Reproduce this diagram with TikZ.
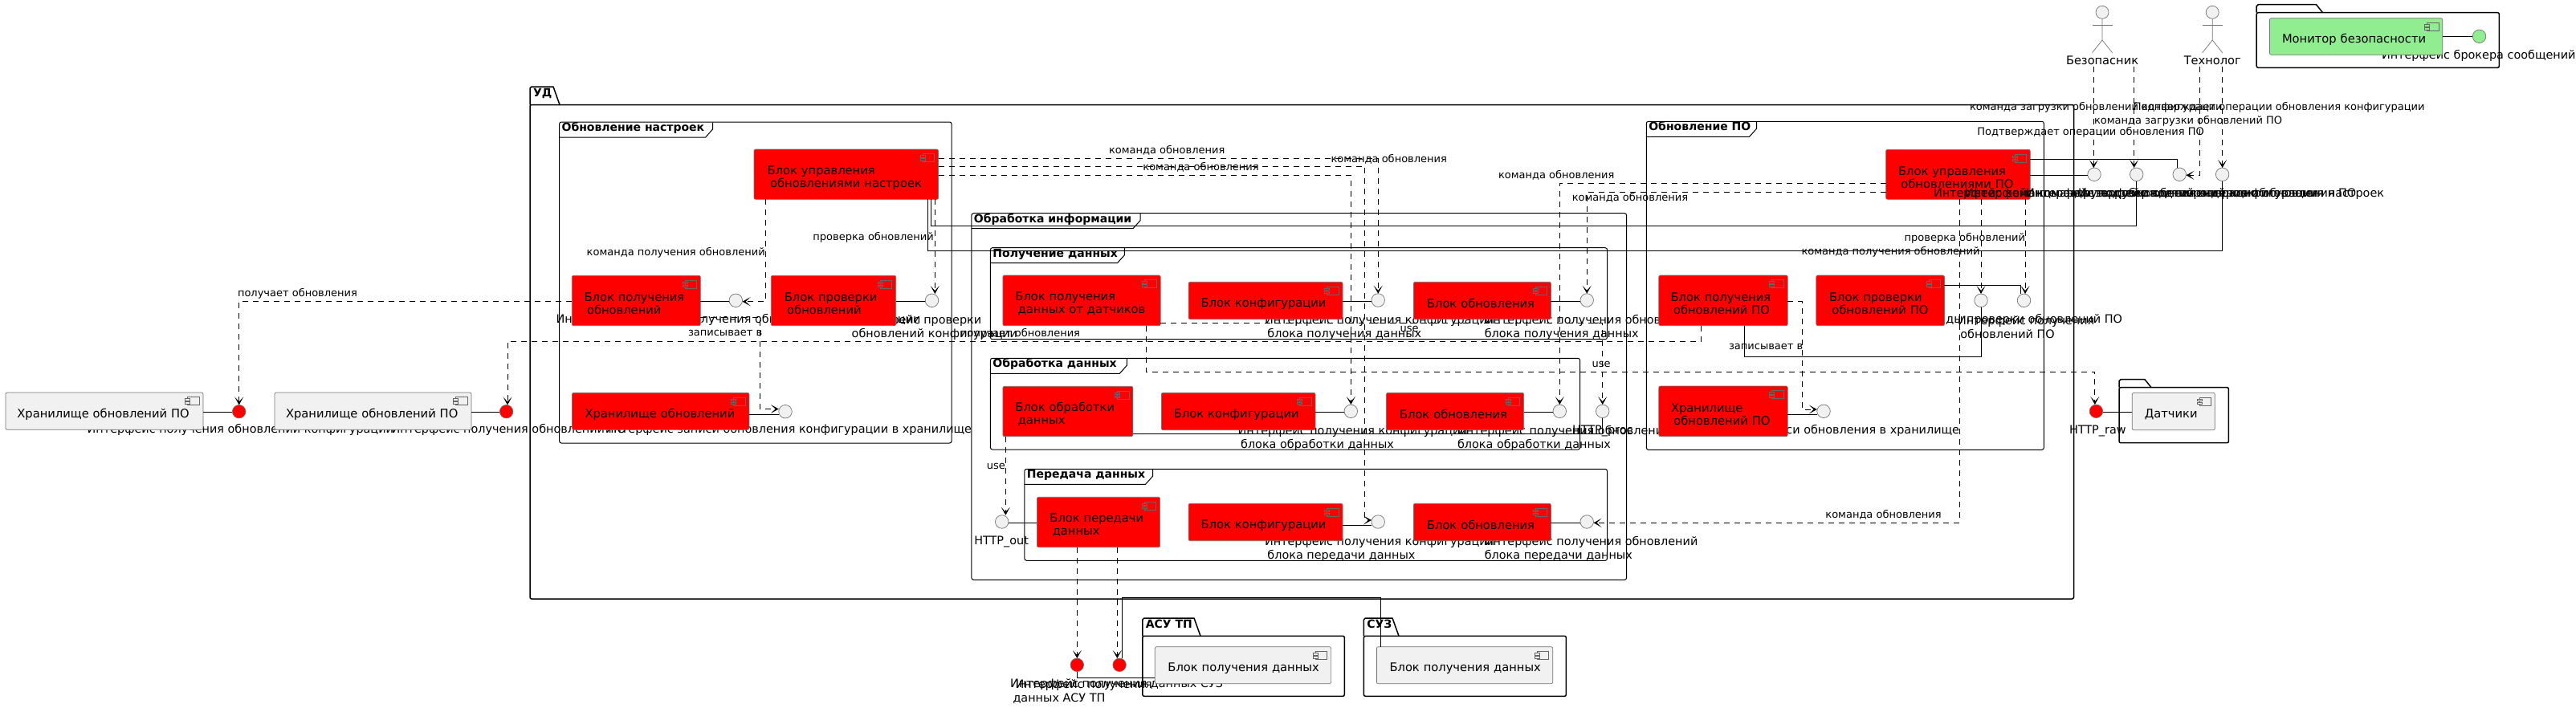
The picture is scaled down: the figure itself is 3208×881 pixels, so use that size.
\documentclass[tikz,border=0pt]{standalone}
\usepackage{fontspec}
\setmainfont{DejaVu Sans}
\usetikzlibrary{arrows.meta,calc}
\definecolor{compgrey}{HTML}{F1F1F1}
\definecolor{lgreen}{HTML}{90EE90}
\tikzset{
  every node/.style={font=\fontsize{14}{16}\selectfont,inner sep=0pt,outer sep=0pt},
  compbox/.style={draw=black!55,line width=0.7pt,rounded corners=2pt,inner ysep=0pt,align=left,font=\fontsize{14.7}{16}\selectfont},
  iconline/.style={draw=black!60,line width=0.6pt},
  framebox/.style={draw=black,line width=1pt,rounded corners=2.5pt},
  packbox/.style={draw=black,line width=1.5pt,rounded corners=2pt},
  titletext/.style={font=\fontsize{14}{16}\selectfont\bfseries,anchor=mid west},
  lab/.style={anchor=mid west,font=\fontsize{14.4}{17}\selectfont},
  labr/.style={anchor=mid east,font=\fontsize{14.4}{17}\selectfont},
  labtwo/.style={anchor=west,align=left,font=\fontsize{14.4}{17}\selectfont},
  conlab/.style={anchor=mid west,font=\fontsize{13}{15}\selectfont},
  conlabr/.style={anchor=mid east,font=\fontsize{13}{15}\selectfont},
  iface/.style={circle,draw=black!55,line width=0.7pt,fill=compgrey,minimum size=16.5pt},
  ifred/.style={iface,fill=red},
  ifgreen/.style={iface,fill=lgreen},
  conn/.style={draw=black,line width=1pt},
  dep/.style={draw=black,line width=1pt,dash pattern=on 7pt off 6pt,-{Stealth[length=10pt,width=11pt,inset=6pt]}},
  actorname/.style={minimum height=15pt,font=\fontsize{14.6}{16}\selectfont},
  actorline/.style={draw=black!55,line width=0.7pt},
}
\newcommand\comp[8]{%
  \pgfmathsetmacro\cw{#4-#2}\pgfmathsetmacro\ch{#5-#3}\pgfmathsetmacro\cp{#6-#2}\pgfmathsetmacro\ctw{\cw-2*\cp}%
  \node[compbox,fill=#7,minimum width=\cw pt,minimum height=\ch pt,text width=\ctw pt,inner xsep=\cp pt]
     (#1) at ({(#2+#4)/2},{(#3+#5)/2}) {\rule{0pt}{19pt}#8};
  \draw[iconline,fill=#7] ([xshift=-19.5pt,yshift=-5.7pt]#1.north east) rectangle ([xshift=-5pt,yshift=-15.7pt]#1.north east);
  \draw[iconline,fill=#7] ([xshift=-22.5pt,yshift=-7.7pt]#1.north east) rectangle ([xshift=-16.5pt,yshift=-10.2pt]#1.north east);
  \draw[iconline,fill=#7] ([xshift=-22.5pt,yshift=-11.7pt]#1.north east) rectangle ([xshift=-16.5pt,yshift=-14.2pt]#1.north east);
}
\newcommand\frm[7]{%
  \pgfmathsetmacro\cw{#4-#2}\pgfmathsetmacro\ch{#5-#3}%
  \node[framebox,minimum width=\cw pt,minimum height=\ch pt] (#1) at ({(#2+#4)/2},{(#3+#5)/2}) {};
  \draw[line width=1pt] (#2,#3+19) -- (#6-9,#3+19) -- (#6,#3+9) -- (#6,#3+0.5);
  \node[titletext] (#1-t) at (#2+3,#3+8.7) {#7};
}
\newcommand\pck[8]{%
  \pgfmathsetmacro\cw{#6-#2}\pgfmathsetmacro\ch{#7-#5}%
  \node[packbox,minimum width=\cw pt,minimum height=\ch pt] (#1) at ({(#2+#6)/2},{(#5+#7)/2}) {};
  \draw[line width=1.5pt,line join=round] (#2,#5) -- (#2,#3+2) -- (#2+2,#3) -- (#4,#3) -- (#4+8,#5);
  \node[titletext] (#1-t) at (#2+4,#3+10) {#8};
}
\newcommand\lb[4]{\node[lab] (#1) at (#2,#3) {#4};}
\newcommand\lbr[4]{\node[labr] (#1) at (#2,#3) {#4};}
\newcommand\lbb[4]{\node[labtwo] (#1) at (#2,#3) {#4};}
\newcommand\cl[4]{\node[conlab] (#1) at (#2,#3) {#4};}
\newcommand\clr[4]{\node[conlabr] (#1) at (#2,#3) {#4};}
\newcommand\actor[3]{%
  \node[actorname] (#1) at (#2,75.7) {#3};
  \node[iface,minimum size=16pt] (#1-h) at (#2,15.3) {};
  \draw[actorline] (#1-h.south) -- (#2,50) -- (#2-12.5,65.7);
  \draw[actorline] (#2,50) -- (#2+12.5,65.7);
  \draw[actorline] (#2-12.5,31.3) -- (#2+12.5,31.3);
}
\begin{document}
\begin{tikzpicture}[x=1pt,y=-1pt]
\useasboundingbox (0,0) rectangle (3208,881);
% packages and frames
\pck{ud}{660}{108}{689}{130.5}{2582.5}{746}{УД}
\pck{kap}{1422.8}{770}{1487}{792.3}{1674.3}{867.3}{АСУ ТП}
\pck{ksp}{1698.4}{770}{1734}{792.3}{1950.4}{867.3}{СУЗ}
\pck{sap}{2639}{472.7}{2671}{482.7}{2775.4}{551.7}{}
\pck{mnp}{2810.2}{5.7}{2884.5}{15.7}{3112.3}{84.3}{}
\frm{fs}{696.6}{152}{1185}{552}{887.6}{Обновление настроек}
\frm{fi}{1209.9}{265.7}{2025.6}{722.3}{1420}{Обработка информации}
\frm{fg}{1233.4}{308.7}{2001.5}{422.7}{1400.4}{Получение данных}
\frm{fo}{1233.4}{446.3}{1967.6}{560}{1403.3}{Обработка данных}
\frm{fp}{1275.9}{584.3}{2001.5}{698.3}{1435.5}{Передача данных}
\frm{fu}{2050.3}{151.3}{2545.3}{560.3}{2187.5}{Обновление ПО}
% interface labels (lie under the components)
\lb{li1}{108.7}{537}{Интерфейс получения обновлений конфигурации}
\lb{li2}{487.5}{537}{Интерфейс получения обновлений ПО}
\lb{li3}{753.8}{537}{Интерфейс записи обновления конфигурации в хранилище}
\lb{li4}{692.6}{399.3}{Интерфейс команды получения обновлений конфигурации}
\lbb{li5}{1060.7}{407.8}{Интерфейс проверки\\обновлений конфигурации}
\lbb{lg1}{1575}{407.8}{Интерфейс получения конфигурации\\\hspace*{3.4pt}блока получения данных}
\lbb{lg2}{1848.8}{407.8}{Интерфейс получения обновлений\\блока получения данных}
\lbb{lo1}{1541.7}{545.8}{Интерфейс получения конфигурации\\\hspace*{3.4pt}блока обработки данных}
\lbb{lo2}{1815}{545.8}{Интерфейс получения обновлений\\блока обработки данных}
\lb{lop}{1958}{537.3}{HTTP\_proc}
\lbb{lp1}{1575}{684.2}{Интерфейс получения конфигурации\\\hspace*{3.4pt}блока передачи данных}
\lbb{lp2}{1848.8}{684.2}{Интерфейс получения обновлений\\блока передачи данных}
\lb{lp0}{1213.3}{675.3}{HTTP\_out}
\lbr{lq1}{2643}{399.3}{Интерфейс команды проверки обновлений ПО}
\lbb{lq2}{2438}{407.8}{Интерфейс получения\\\hspace*{3.4pt}обновлений ПО}
\lbr{lq3}{2440}{537.3}{Интерфейс записи обновления в хранилище}
\lb{lraw}{2577}{537.3}{HTTP\_raw}
\lb{lbr}{2966}{70.3}{Интерфейс брокера сообщений}
\lbb{lka}{1261.5}{861.3}{\hspace*{3pt}Интерфейс получения\\данных АСУ ТП}
\lb{lkb}{1258}{853.3}{Интерфейс получения данных СУЗ}
% components
\comp{st1}{7}{489}{253}{535.3}{21.4}{compgrey}{\mbox{Хранилище обновлений ПО}}
\comp{st2}{342}{489}{587}{535.3}{356}{compgrey}{\mbox{Хранилище обновлений ПО}}
\comp{sm}{939}{186}{1168.5}{248.3}{955.7}{red}{Блок управления\\\hspace*{3.4pt}\mbox{обновлениями настроек}}
\comp{sg}{712.3}{343.3}{872.3}{405.7}{727.6}{red}{Блок получения\\\hspace*{3.4pt}обновлений}
\comp{sc}{960.3}{343.3}{1115.7}{405.7}{976.8}{red}{Блок проверки\\\hspace*{3.4pt}обновлений}
\comp{ss}{712.5}{489.3}{932.9}{535.3}{728.5}{red}{\mbox{Хранилище обновлений}}
\comp{gd}{1248.9}{343}{1445.2}{405.7}{1264.4}{red}{Блок получения\\\hspace*{3.4pt}\mbox{данных от датчиков}}
\comp{gc}{1480.2}{351.3}{1672}{397.7}{1495.7}{red}{\mbox{Блок конфигурации}}
\comp{gu}{1760.4}{351.3}{1931.4}{397.7}{1777}{red}{\mbox{Блок обновления}}
\comp{od}{1248.9}{481.3}{1410.8}{543.7}{1264.4}{red}{Блок обработки\\\hspace*{3.4pt}данных}
\comp{oc}{1446.4}{489.3}{1638}{535.7}{1461.9}{red}{\mbox{Блок конфигурации}}
\comp{ou}{1726.5}{489.3}{1897.6}{535.7}{1743}{red}{\mbox{Блок обновления}}
\comp{pd}{1291.4}{619.3}{1444.6}{681.7}{1307.4}{red}{Блок передачи\\\hspace*{3.4pt}данных}
\comp{pc}{1480.2}{627.3}{1672}{673.7}{1495.7}{red}{\mbox{Блок конфигурации}}
\comp{pu}{1760.4}{627.3}{1931.4}{673.7}{1777}{red}{\mbox{Блок обновления}}
\comp{um}{2348.6}{186.3}{2528.3}{248.3}{2364}{red}{Блок управления\\\hspace*{3.4pt}\mbox{обновлениями ПО}}
\comp{ug}{2065.8}{343}{2226.2}{405.7}{2080.6}{red}{Блок получения\\\hspace*{3.4pt}\mbox{обновлений ПО}}
\comp{uc}{2261.8}{343}{2421.4}{405.7}{2278}{red}{Блок проверки\\\hspace*{3.4pt}\mbox{обновлений ПО}}
\comp{us}{2065.8}{481}{2226.2}{543.7}{2081}{red}{Хранилище\\\hspace*{3.4pt}\mbox{обновлений ПО}}
\comp{ka}{1438.3}{805.7}{1657.6}{851.7}{1454.4}{compgrey}{\mbox{Блок получения данных}}
\comp{kb}{1714.4}{805.7}{1933.7}{851.7}{1730.5}{compgrey}{\mbox{Блок получения данных}}
\comp{ds}{2655.3}{489.3}{2758.3}{535.7}{2670.8}{compgrey}{\mbox{Датчики}}
\comp{mn}{2826.5}{22.7}{3041.8}{68.3}{2842}{lgreen}{\mbox{Монитор безопасности}}
% interfaces
\node[ifred] (icfg1) at (297.7,512.7) {};
\node[ifred] (icfg2) at (630.6,512.7) {};
\node[iface] (is1) at (916.3,374.3) {};
\node[iface] (is2) at (1160.5,374.3) {};
\node[iface] (is3) at (978,512.7) {};
\node[iface] (ig1) at (1716.2,374) {};
\node[iface] (ig2) at (1976.2,374) {};
\node[iface] (io1) at (1682.3,512.3) {};
\node[iface] (io2) at (1942.3,512.3) {};
\node[iface] (iop) at (1995.7,512.3) {};
\node[iface] (ip0) at (1247.7,650) {};
\node[iface] (ip1) at (1716.2,650) {};
\node[iface] (ip2) at (1976.2,650) {};
\node[ifred] (ia) at (1341.3,828.3) {};
\node[ifred] (ib) at (1394.1,828.3) {};
\node[iface] (iu1) at (2608,217.3) {};
\node[iface] (iu2) at (2660.7,217.3) {};
\node[iface] (iu3) at (2714.2,217.3) {};
\node[iface] (iu4) at (2767.6,217.3) {};
\node[iface] (iq1) at (2467,374.3) {};
\node[iface] (iq2) at (2520.5,374.3) {};
\node[iface] (iq3) at (2271,512.3) {};
\node[ifred] (iraw) at (2610.4,512.3) {};
\node[ifgreen] (ibr) at (3087.5,45.3) {};
% actors
\actor{aB}{2618}{Безопасник}
\actor{aT}{2755.2}{Технолог}
% labels lying over the components
\lb{lu1}{2408}{242.7}{Интерфейс команды загрузки обновлений настроек}
\lb{lu2}{2447}{242.7}{Интерфейс команды загрузки обновлений конфигурации}
\lb{lu3}{2523}{242.7}{Интерфейс подтверждения операции обновления ПО}
\lb{lu4}{2588}{242.7}{Интерфейс подтверждения обновления настроек}
% connector labels
\cl{c1}{296}{367}{получает обновления}
\clr{c2}{1345}{416.7}{получает обновления}
\clr{c3}{952.7}{315.7}{команда получения обновлений}
\clr{c4}{1162.8}{296.7}{проверка обновлений}
\cl{c5}{857}{416}{записывает в}
\cl{c6}{1381}{189}{команда обновления}
\cl{c7}{1423.4}{210}{команда обновления}
\cl{c8}{1657.6}{199.3}{команда обновления}
\cl{c9}{1866}{220}{команда обновления}
\cl{c10}{1957.8}{248}{команда обновления}
\cl{c11}{2273.4}{643}{команда обновления}
\cl{c12}{1743.7}{410.7}{use}
\cl{c13}{1982.5}{455}{use}
\cl{c14}{1228.8}{581.7}{use}
\clr{c15}{2522}{297.3}{проверка обновлений}
\clr{c16}{2465.5}{314.3}{команда получения обновлений}
\cl{c17}{2153}{432.3}{записывает в}
\cl{c18}{2453}{135}{команда загрузки обновлений конфигурации}
\cl{c19}{2656.8}{135}{Подтверждает операции обновления конфигурации}
\cl{c20}{2608}{152}{команда загрузки обновлений ПО}
\cl{c21}{2462.4}{166}{Подтверждает операции обновления ПО}
% solid connectors
\draw[conn] (st1.east |- 0,513) -- (icfg1.west |- 0,513);
\draw[conn] (st2.east |- 0,513) -- (icfg2.west |- 0,513);
\draw[conn] (sg.east |- 0,375.7) -- (is1.west |- 0,375.7);
\draw[conn] (sc.east |- 0,375.7) -- (is2.west |- 0,375.7);
\draw[conn] (ss.east |- 0,516.3) -- (is3.west |- 0,516.3);
\draw[conn] (gc.east |- 0,375.3) -- (ig1.west |- 0,375.3);
\draw[conn] (gu.east |- 0,375.3) -- (ig2.west |- 0,375.3);
\draw[conn] (oc.east |- 0,513.3) -- (io1.west |- 0,513.3);
\draw[conn] (ou.east |- 0,513.3) -- (io2.west |- 0,513.3);
\draw[conn] (od.east |- 0,540) -- (iop.south |- 0,540) -- (iop.south);
\draw[conn] (pd.west |- 0,651.3) -- (ip0.east |- 0,651.3);
\draw[conn] (pc.east |- 0,654.3) -- (ip1.west |- 0,654.3);
\draw[conn] (pu.east |- 0,651.3) -- (ip2.west |- 0,651.3);
\draw[conn] (ia.south) -- (ia.south |- 0,844.3) -- (ka.west |- 0,844.3);
\draw[conn] (1397.6,0 |- ib.north) -- (1397.6,744.3) -- (1719.6,744.3) -- (1719.6,0 |- kb.north);
\draw[conn] (um.east |- 0,218.3) -- (iu1.west |- 0,218.3);
\draw[conn] (um.east |- 0,198.3) -- (2711.8,198.3) -- (2711.8,0 |- iu3.north);
\draw[conn] (1159.7,0 |- sm.south) -- (1159.7,281.5) -- (iu2.south |- 0,281.5) -- (iu2.south);
\draw[conn] (1155.5,0 |- sm.south) -- (1155.5,312.3) -- (iu4.south |- 0,312.3) -- (iu4.south);
\draw[conn] (2172,0 |- ug.south) -- (2172,444.3) -- (iq1.south |- 0,444.3) -- (iq1.south);
\draw[conn] (uc.east |- 0,355.7) -- (2516.7,355.7) -- (2516.7,0 |- iq2.north);
\draw[conn] (us.east |- 0,516.3) -- (iq3.west |- 0,516.3);
\draw[conn] (iraw.east |- 0,513.3) -- (ds.west |- 0,513.3);
\draw[conn] (mn.east |- 0,45.3) -- (ibr.west);
% dashed connectors
\draw[dep] (sg.west |- 0,375.7) -- (icfg1.north |- 0,375.7) -- (icfg1.north);
\draw[dep] (2118.5,0 |- ug.south) -- (2118.5,425.3) -- (632,425.3) -- (632,0 |- icfg2.north);
\draw[dep] (953.8,0 |- sm.south) -- (953.8,375.7) -- (is1.east |- 0,375.7);
\draw[dep] (1164.3,0 |- sm.south) -- (1164.3,0 |- is2.north);
\draw[dep] (sg.east |- 0,395) -- (946,395) -- (946,509.5) -- (is3.west |- 0,509.5);
\draw[dep] (sm.east |- 0,197.3) -- (ig1.north |- 0,197.3) -- (ig1.north);
\draw[dep] (sm.east |- 0,207.3) -- (1699.5,207.3) -- (1699.5,648) -- (ip1.west |- 0,648);
\draw[dep] (sm.east |- 0,218.3) -- (io1.north |- 0,218.3) -- (io1.north);
\draw[dep] (um.west |- 0,228.3) -- (io2.north |- 0,228.3) -- (io2.north);
\draw[dep] (um.west |- 0,239.3) -- (ig2.north |- 0,239.3) -- (ig2.north);
\draw[dep] (2440,0 |- um.south) -- (2440,651.3) -- (ip2.east |- 0,651.3);
\draw[dep] (iq1.north |- um.south) -- (iq1.north);
\draw[dep] (2522,0 |- um.south) -- (2522,0 |- iq2.north);
\draw[dep] (ug.east |- 0,375.3) -- (2244,375.3) -- (2244,510) -- (iq3.west |- 0,510);
\draw[dep] (gd.east |- 0,402.3) -- (iop.north |- 0,402.3) -- (iop.north);
\draw[dep] (1427.4,0 |- gd.south) -- (1427.4,463.3) -- (2608.8,463.3) -- (2608.8,0 |- iraw.north);
\draw[dep] (1252.3,0 |- od.south) -- (1252.3,0 |- ip0.north);
\draw[dep] (ia.north |- pd.south) -- (ia.north);
\draw[dep] (1391.3,0 |- pd.south) -- (1391.3,0 |- ib.north);
\draw[dep] (2607.3,0 |- aB.south) -- (2607.3,0 |- iu1.north);
\draw[dep] (2657.6,0 |- aB.south) -- (2657.6,0 |- iu2.north);
\draw[dep] (2739.7,0 |- aT.south) -- (2739.7,218.3) -- (iu3.east |- 0,218.3);
\draw[dep] (iu4.north |- aT.south) -- (iu4.north);
\end{tikzpicture}
\end{document}
